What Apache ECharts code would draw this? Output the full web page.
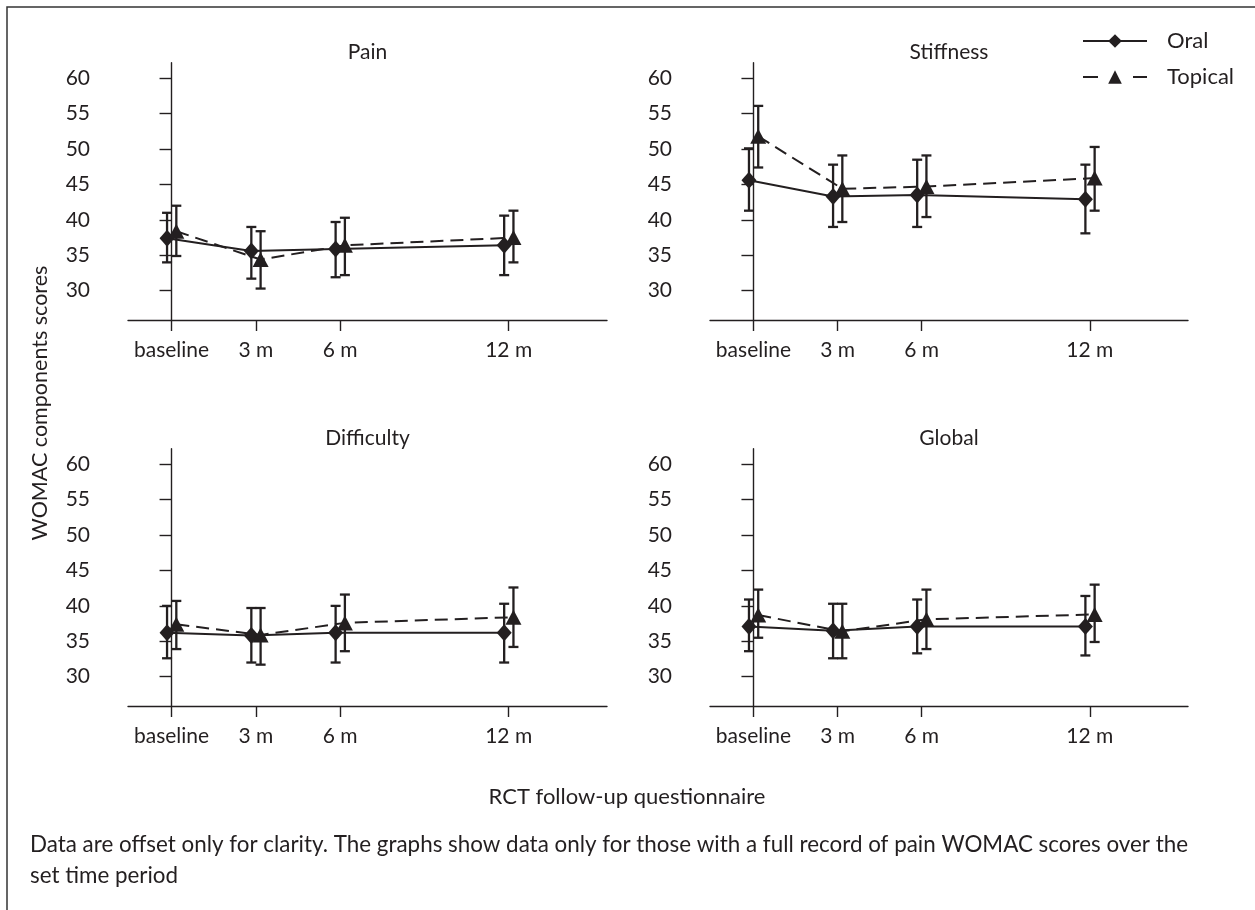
<!DOCTYPE html>
<html>
<head>
<meta charset="utf-8">
<script src="https://cdn.jsdelivr.net/npm/echarts@6/dist/echarts.min.js"></script>
<style>
  html, body { margin: 0; padding: 0; background: #fff; }
  #chart { width: 1255px; height: 910px; }
</style>
</head>
<body>
<div id="chart"></div>
<script>
// Follow-up time points (months) and their axis labels
const months = [0, 3, 6, 12];
const monthLabels = ['baseline', '3 m', '6 m', '12 m'];
const yTicks = [30, 35, 40, 45, 50, 55, 60];
const panelTitles = ['Pain', 'Stiffness', 'Difficulty', 'Global'];
const groupNames = ['Oral', 'Topical'];

// WOMAC component means with lower / upper error-bar limits
const painOral = [37.4, 35.6, 35.9, 36.4];
const painOralLow = [34.0, 31.7, 31.9, 32.2];
const painOralHigh = [41.0, 39.0, 39.7, 40.6];
const painTopical = [38.4, 34.4, 36.4, 37.5];
const painTopicalLow = [34.9, 30.3, 32.2, 34.0];
const painTopicalHigh = [42.0, 38.4, 40.3, 41.3];

const stiffOral = [45.6, 43.3, 43.5, 42.9];
const stiffOralLow = [41.3, 39.0, 39.0, 38.1];
const stiffOralHigh = [50.1, 47.8, 48.5, 47.8];
const stiffTopical = [51.8, 44.4, 44.7, 45.9];
const stiffTopicalLow = [47.4, 39.7, 40.4, 41.3];
const stiffTopicalHigh = [56.1, 49.1, 49.1, 50.3];

const diffOral = [36.2, 35.8, 36.2, 36.2];
const diffOralLow = [32.6, 32.0, 32.0, 32.0];
const diffOralHigh = [40.0, 39.7, 40.0, 40.3];
const diffTopical = [37.4, 35.9, 37.6, 38.4];
const diffTopicalLow = [33.9, 31.7, 33.6, 34.2];
const diffTopicalHigh = [40.7, 39.7, 41.6, 42.6];

const globalOral = [37.1, 36.5, 37.1, 37.1];
const globalOralLow = [33.6, 32.6, 33.3, 33.0];
const globalOralHigh = [40.9, 40.3, 40.9, 41.4];
const globalTopical = [38.7, 36.4, 38.1, 38.8];
const globalTopicalLow = [35.5, 32.6, 33.9, 34.9];
const globalTopicalHigh = [42.3, 40.3, 42.3, 43.0];

// Horizontal offset (months) so the two groups do not overlap
const groupShift = [-0.16, 0.17];

const panels = [
  [[painOral, painOralLow, painOralHigh], [painTopical, painTopicalLow, painTopicalHigh]],
  [[stiffOral, stiffOralLow, stiffOralHigh], [stiffTopical, stiffTopicalLow, stiffTopicalHigh]],
  [[diffOral, diffOralLow, diffOralHigh], [diffTopical, diffTopicalLow, diffTopicalHigh]],
  [[globalOral, globalOralLow, globalOralHigh], [globalTopical, globalTopicalLow, globalTopicalHigh]]
];

const INK = '#231f20';
const FONT = 'Lato, "Open Sans", sans-serif';
const FS = 21;

const grids = [
  { left: 128, top: 62.7, width: 479, height: 257.3 },
  { left: 710, top: 62.7, width: 478, height: 257.3 },
  { left: 128, top: 448.7, width: 479, height: 257.3 },
  { left: 710, top: 448.7, width: 478, height: 257.3 }
];

const axisLine = { show: true, lineStyle: { color: INK, width: 1.4 } };

const xAxes = grids.map((g, i) => ({
  gridIndex: i, type: 'value', min: -1.55, max: 15.5,
  axisLine: axisLine,
  axisTick: { show: true, length: 11, customValues: months, lineStyle: { color: INK, width: 1.4 } },
  axisLabel: {
    customValues: months, margin: 20, color: INK, fontFamily: FONT, fontSize: FS,
    formatter: v => monthLabels[months.indexOf(v)]
  },
  splitLine: { show: false }
}));

const yAxes = grids.map((g, i) => ({
  gridIndex: i, type: 'value', min: 25.86, max: 62.2,
  axisLine: axisLine,
  axisTick: { show: true, length: 12, customValues: yTicks, lineStyle: { color: INK, width: 1.4 } },
  axisLabel: { customValues: yTicks, margin: 38, color: INK, fontFamily: FONT, fontSize: FS },
  splitLine: { show: false }
}));

function errorBarRender(params, api) {
  const x = api.value(0);
  const lo = api.coord([x, api.value(1)]);
  const hi = api.coord([x, api.value(2)]);
  const cap = 5;
  const style = { stroke: INK, lineWidth: 2.3, fill: 'none' };
  return {
    type: 'group',
    children: [
      { type: 'line', shape: { x1: lo[0], y1: lo[1], x2: hi[0], y2: hi[1] }, style },
      { type: 'line', shape: { x1: hi[0] - cap, y1: hi[1], x2: hi[0] + cap, y2: hi[1] }, style },
      { type: 'line', shape: { x1: lo[0] - cap, y1: lo[1], x2: lo[0] + cap, y2: lo[1] }, style }
    ]
  };
}

const series = [];
panels.forEach((groups, p) => {
  groups.forEach((g, k) => {
    const [mean, low, high] = g;
    series.push({
      type: 'custom', name: groupNames[k] + ' range', xAxisIndex: p, yAxisIndex: p,
      renderItem: errorBarRender, silent: true, z: 2,
      data: months.map((m, j) => [m + groupShift[k], low[j], high[j]])
    });
  });
  groups.forEach((g, k) => {
    const mean = g[0];
    series.push({
      type: 'line', name: groupNames[k], xAxisIndex: p, yAxisIndex: p,
      data: months.map((m, j) => [m + groupShift[k], mean[j]]),
      symbol: k === 0 ? 'diamond' : 'triangle',
      symbolSize: k === 0 ? [15, 17] : [16, 15],
      showAllSymbol: true, z: 3,
      itemStyle: { color: INK },
      lineStyle: { color: INK, width: 2, type: k === 0 ? 'solid' : [13, 7] },
      animation: false
    });
  });
});

const titles = panelTitles.map((t, i) => ({
  type: 'text',
  x: grids[i].left + grids[i].width / 2,
  y: grids[i].top - 10,
  style: { text: t, fill: INK, font: `${FS}px ${FONT}`, textAlign: 'center', textVerticalAlign: 'middle' }
}));

const option = {
  backgroundColor: '#fff',
  animation: false,
  grid: grids,
  xAxis: xAxes,
  yAxis: yAxes,
  series: series,
  legend: {
    orient: 'vertical', left: 1077, top: 25,
    itemWidth: 64, itemHeight: 17, itemGap: 14,
    textStyle: { color: INK, fontFamily: FONT, fontSize: 22, lineHeight: 22, padding: [0, 0, 0, 15] },
    data: [
      { name: 'Oral' },
      { name: 'Topical', lineStyle: { type: [15, 35] } }
    ]
  },
  graphic: [
    { type: 'rect', shape: { x: 7, y: 7, width: 1300, height: 1000 },
      style: { fill: 'none', stroke: '#333', lineWidth: 1.5 }, silent: true },
    ...titles,
    { type: 'text', x: 40, y: 403, rotation: Math.PI / 2,
      style: { text: 'WOMAC components scores', fill: INK, font: `21.5px ${FONT}`,
               textAlign: 'center', textVerticalAlign: 'middle' } },
    { type: 'text', x: 627, y: 797,
      style: { text: 'RCT follow-up questionnaire', fill: INK, font: `22px ${FONT}`,
               textAlign: 'center', textVerticalAlign: 'middle' } },
    { type: 'text', x: 30, y: 845,
      style: { text: 'Data are offset only for clarity. The graphs show data only for those with a full record of pain WOMAC scores over the',
               fill: INK, font: `22.4px ${FONT}`, textAlign: 'left', textVerticalAlign: 'middle' } },
    { type: 'text', x: 30, y: 876,
      style: { text: 'set time period', fill: INK, font: `22.4px ${FONT}`,
               textAlign: 'left', textVerticalAlign: 'middle' } }
  ]
};

const chart = echarts.init(document.getElementById('chart'), null, { renderer: 'canvas' });
chart.setOption(option);
</script>
</body>
</html>
